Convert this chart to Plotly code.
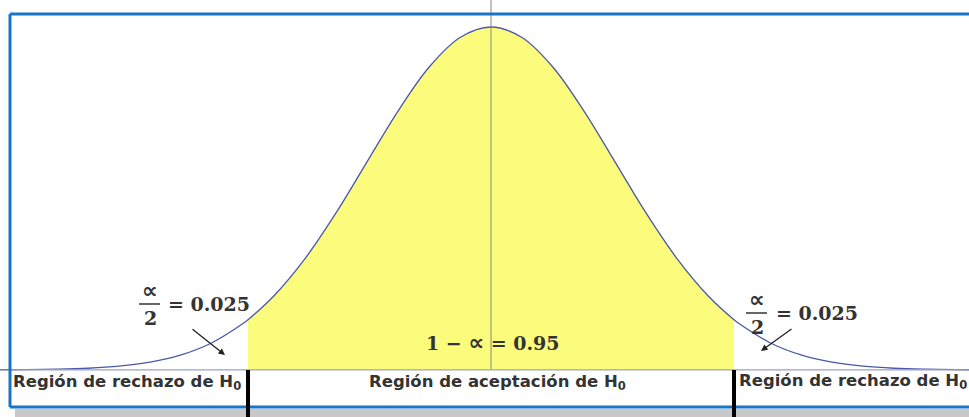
import plotly.graph_objects as go

W, H = 969, 417

# standard normal density
z_vals = [-4.0, -3.75, -3.5, -3.25, -3.0, -2.75, -2.5, -2.25, -2.0, -1.96, -1.75, -1.5, -1.25, -1.0,
          -0.75, -0.5, -0.25, 0.0, 0.25, 0.5, 0.75, 1.0, 1.25, 1.5, 1.75, 1.96, 2.0, 2.25, 2.5,
          2.75, 3.0, 3.25, 3.5, 3.75, 4.0]
density = [0.0001, 0.0004, 0.0009, 0.0020, 0.0044, 0.0091, 0.0175, 0.0317, 0.0540, 0.0584, 0.0863,
           0.1295, 0.1826, 0.2420, 0.3011, 0.3521, 0.3867, 0.3989, 0.3867, 0.3521, 0.3011, 0.2420,
           0.1826, 0.1295, 0.0863, 0.0584, 0.0540, 0.0317, 0.0175, 0.0091, 0.0044, 0.0020, 0.0009,
           0.0004, 0.0001]
critical = [-1.96, 1.96]
alpha_half = 0.025
confidence = 0.95
reject_label = "Región de rechazo de H<sub>0</sub>"
accept_label = "Región de aceptación de H<sub>0</sub>"

acc_z = [z for z in z_vals if critical[0] <= z <= critical[1]]
acc_d = [d for z, d in zip(z_vals, density) if critical[0] <= z <= critical[1]]

X_RANGE = [-3.96, 3.855]
Y_RANGE = [-0.0547, 0.4303]

def px(x):
    return x / W

def py(y):
    return 1 - y / H

fig = go.Figure()
fig.add_trace(go.Scatter(x=acc_z, y=acc_d, mode="lines", line=dict(width=0, shape="spline"),
                         fill="tozeroy", fillcolor="#fbfb7c", hoverinfo="skip", showlegend=False))
fig.add_trace(go.Scatter(x=z_vals, y=density, mode="lines",
                         line=dict(color="#4b58a6", width=1.3, shape="spline"),
                         showlegend=False))

shapes = []
shapes.append(dict(type="rect", xref="paper", yref="paper", x0=px(15), x1=1, y0=py(417), y1=py(409),
                   fillcolor="#c8c8c8", line=dict(width=0), layer="below"))
shapes.append(dict(type="line", xref="x", yref="y", x0=0, x1=0, y0=0.0, y1=Y_RANGE[1],
                   line=dict(color="#8a8a7a", width=1), layer="above"))
shapes.append(dict(type="line", xref="paper", yref="y", x0=px(12), x1=1, y0=0, y1=0,
                   line=dict(color="#9aa3c0", width=1.2)))
frame_c = "#1a74c6"
shapes.append(dict(type="line", xref="paper", yref="paper", x0=px(10), x1=px(10), y0=py(14), y1=py(407),
                   line=dict(color=frame_c, width=3)))
shapes.append(dict(type="line", xref="paper", yref="paper", x0=px(10), x1=1, y0=py(14), y1=py(14),
                   line=dict(color=frame_c, width=3)))
shapes.append(dict(type="line", xref="paper", yref="paper", x0=px(10), x1=1, y0=py(407), y1=py(407),
                   line=dict(color=frame_c, width=3)))
for c in critical:
    shapes.append(dict(type="line", xref="x", yref="y", x0=c, x1=c, y0=0, y1=Y_RANGE[0],
                       line=dict(color="black", width=4)))
shapes.append(dict(type="line", xref="paper", yref="paper", x0=px(139), x1=px(160), y0=py(304), y1=py(304),
                   line=dict(color="#333333", width=1.5)))
shapes.append(dict(type="line", xref="paper", yref="paper", x0=px(746), x1=px(767), y0=py(313), y1=py(313),
                   line=dict(color="#333333", width=1.5)))

fig.update_layout(shapes=shapes)

mathfont = dict(family="DejaVu Serif", size=19, color="#333333")
lblfont = dict(family="DejaVu Sans", size=16.5, color="#333333")
PROP = '<span style="font-family:\'DejaVu Sans\';font-size:22px">∝</span>'
PROP_BIG = '<span style="font-family:\'DejaVu Sans\';font-size:22px">∝</span>'

def ann(text, x, y, font, xanchor="center"):
    fig.add_annotation(text=text, xref="paper", yref="paper", x=px(x), y=py(y), showarrow=False,
                       font=font, xanchor=xanchor, yanchor="middle")

ann(f"<b>{PROP_BIG}</b>", 150, 290, mathfont)
ann("<b>2</b>", 150, 318, mathfont)
ann(f"<b>= {alpha_half:.3f}</b>", 166, 304, mathfont, "left")
ann(f"<b>{PROP_BIG}</b>", 757, 299, mathfont)
ann("<b>2</b>", 757, 327, mathfont)
ann(f"<b>= {alpha_half:.3f}</b>", 774, 313, mathfont, "left")
ann(f"<b>1 − {PROP} = {confidence:.2f}</b>", 492, 342, mathfont)

fig.add_annotation(xref="paper", yref="paper", x=px(225), y=py(355),
                   ax=-34, ay=-27, text="", showarrow=True, arrowhead=2, arrowsize=1, arrowwidth=1.3,
                   arrowcolor="#222222")
fig.add_annotation(xref="paper", yref="paper", x=px(761), y=py(351),
                   ax=32, ay=-23, text="", showarrow=True, arrowhead=2, arrowsize=1, arrowwidth=1.3,
                   arrowcolor="#222222")

ann(f"<b>{reject_label}</b>", 11, 382, lblfont, "left")
ann(f"<b>{accept_label}</b>", 497, 382, lblfont)
ann(f"<b>{reject_label}</b>", 737, 381, lblfont, "left")

fig.update_layout(
    width=W, height=H, margin=dict(l=0, r=0, t=0, b=0),
    paper_bgcolor="white", plot_bgcolor="white",
    xaxis=dict(range=X_RANGE, visible=False, showgrid=False, zeroline=False),
    yaxis=dict(range=Y_RANGE, visible=False, showgrid=False, zeroline=False),
    showlegend=False,
)
fig.write_html("out.html", config={"displayModeBar": False},
               post_script="document.body.style.margin='0';document.body.style.overflow='hidden';")
